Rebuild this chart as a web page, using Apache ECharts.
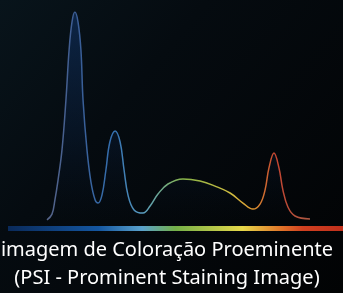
<!DOCTYPE html>
<html>
<head>
<meta charset="utf-8">
<script src="https://cdn.jsdelivr.net/npm/echarts@6/dist/echarts.min.js"></script>
<style>
  html, body { margin: 0; padding: 0; background: #000; }
  #chart { width: 343px; height: 293px; }
</style>
</head>
<body>
<div id="chart"></div>
<script>
  // posição no espectro (0-100) e intensidade (0-100)
  const positions = [0, 1.9, 3.0, 4.2, 5.7, 7.2, 8.4, 9.5, 10.6, 11.8, 12.9, 13.7, 15.2, 16.7, 18.3,
    19.4, 20.9, 22.4, 23.9, 25.9, 27.8, 29.3, 30.8, 33.1, 36.5, 39.2, 42.2, 46, 51.7, 58.2,
    63.9, 69.6, 74.5, 78.3, 81, 82.9, 84.4, 86.3, 88.2, 89.7, 91.6, 94.3, 100];
  const intensity = [0.5, 3.3, 10, 19.6, 34, 57.9, 81.8, 95.2, 100, 95.2, 81.8, 57.9, 34, 18.7, 10,
    8.6, 12.4, 24.4, 37.8, 43.1, 37.8, 24.4, 12.4, 5.3, 3.8, 7.2, 12.9, 17.7, 20.1, 19.1,
    16.7, 13.4, 8.6, 5.7, 8.1, 14.8, 25.4, 32.5, 25.4, 14.8, 6.7, 2.4, 1];
  const titleLines = ["imagem de Coloração Proeminente", "(PSI - Prominent Staining Image)"];

  const chart = echarts.init(document.getElementById("chart"));
  const LG = echarts.graphic.LinearGradient;

  chart.setOption({
    backgroundColor: new LG(0, 0, 1, 1, [
      { offset: 0, color: "#08141b" },
      { offset: 0.35, color: "#050b10" },
      { offset: 1, color: "#020304" }
    ]),
    animation: false,
    grid: { left: 47, width: 263, top: 12, height: 209 },
    xAxis: { type: "value", min: 0, max: 100, show: false },
    yAxis: { type: "value", min: 0, max: 100, show: false },
    graphic: [
      {
        // faixa de cores do espectro
        type: "rect",
        shape: { x: 8, y: 226, width: 335, height: 5 },
        style: {
          fill: new LG(0, 0, 1, 0, [
            { offset: 0, color: "#0a2a5a" },
            { offset: 0.27, color: "#1456a0" },
            { offset: 0.40, color: "#5aa2cc" },
            { offset: 0.50, color: "#74b048" },
            { offset: 0.70, color: "#e6d84a" },
            { offset: 0.82, color: "#e07028" },
            { offset: 0.88, color: "#d04020" },
            { offset: 1, color: "#c0301c" }
          ])
        }
      },
      {
        type: "text", x: 167, y: 250,
        style: { text: titleLines[0], fill: "#fff", font: '20px "Noto Sans"', align: "center", verticalAlign: "middle" }
      },
      {
        type: "text", x: 167, y: 278,
        style: { text: titleLines[1], fill: "#fff", font: '20px "Noto Sans"', align: "center", verticalAlign: "middle" }
      }
    ],
    series: [{
      type: "line",
      data: positions.map((p, i) => [p, intensity[i]]),
      smooth: 0.4,
      showSymbol: false,
      lineStyle: {
        width: 1.5,
        color: new LG(0, 0, 1, 0, [
          { offset: 0, color: "#5a6688" },
          { offset: 0.12, color: "#3a5c94" },
          { offset: 0.26, color: "#3470b0" },
          { offset: 0.37, color: "#5a9ec0" },
          { offset: 0.52, color: "#88b448" },
          { offset: 0.70, color: "#d0bc40" },
          { offset: 0.78, color: "#dc9430" },
          { offset: 0.86, color: "#c44430" },
          { offset: 1, color: "#a85a44" }
        ])
      },
      areaStyle: {
        color: new LG(0, 0, 0, 1, [
          { offset: 0, color: "rgba(16,50,100,0.9)" },
          { offset: 0.6, color: "rgba(12,38,78,0.4)" },
          { offset: 1, color: "rgba(8,24,48,0)" }
        ])
      }
    }]
  });
</script>
</body>
</html>
